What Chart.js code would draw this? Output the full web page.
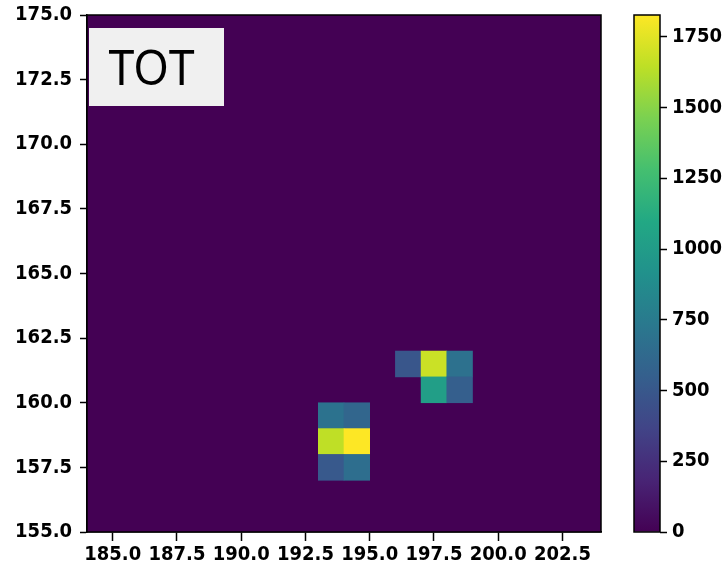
<!DOCTYPE html>
<html>
<head>
<meta charset="utf-8">
<script src="https://cdn.jsdelivr.net/npm/chart.js@4.4.1/dist/chart.umd.min.js"></script>
<style>
  html, body { margin: 0; padding: 0; background: #fff; }
  #wrap { position: relative; width: 726px; height: 570px; }
  #heat { position: absolute; left: 0; top: 0; }
  #cbar { position: absolute; left: 620px; top: 0; }
</style>
</head>
<body>
<div id="wrap">
  <canvas id="heat" width="620" height="570"></canvas>
  <canvas id="cbar" width="106" height="570"></canvas>
</div>
<script>
// grid extent, one cell per unit; any cell not listed below is 0
const xRange = [184, 204];
const yRange = [155, 175];
const xTicks = [185, 187.5, 190, 192.5, 195, 197.5, 200, 202.5];
const yTicks = [155, 157.5, 160, 162.5, 165, 167.5, 170, 172.5, 175];
const cbTicks = [0, 250, 500, 750, 1000, 1250, 1500, 1750];

// non-zero cells: lower-left corner and count
const cellX = [193, 194, 193, 194, 193, 194, 196, 197, 198, 197, 198];
const cellY = [159, 159, 158, 158, 157, 157, 161, 161, 161, 160, 160];
const cellValue = [690, 600, 1650, 1827, 510, 660, 490, 1680, 680, 1020, 550];
const vmax = 1827;
const panelLabel = 'TOT';

// viridis colormap, 11 stops
const VIRIDIS = ['#440154', '#482475', '#414487', '#355f8d', '#2a788e', '#21918c',
                 '#22a884', '#44bf70', '#7ad151', '#bddf26', '#fde725'];
function hex(h) { return [1, 3, 5].map(i => parseInt(h.substr(i, 2), 16)); }
function viridis(t) {
  t = Math.min(1, Math.max(0, t));
  const f = t * (VIRIDIS.length - 1);
  const i = Math.min(Math.floor(f), VIRIDIS.length - 2);
  const a = hex(VIRIDIS[i]), b = hex(VIRIDIS[i + 1]), k = f - i;
  const c = a.map((v, j) => Math.round(v + (b[j] - v) * k));
  return `rgb(${c[0]},${c[1]},${c[2]})`;
}

const FONT = { family: "'DejaVu Sans Condensed', 'DejaVu Sans', sans-serif", size: 20, weight: 'bold' };

// vertical axes: fixed width, no extra room for the end labels
function fitY(width) {
  return s => { s.width = width; s.paddingTop = 0; s.paddingBottom = 0; };
}

// zero background, black frame and the panel tag
const heatFrame = {
  id: 'heatFrame',
  beforeDatasetsDraw(chart) {
    const { ctx, chartArea: a } = chart;
    ctx.save();
    ctx.fillStyle = viridis(0);
    ctx.fillRect(a.left, a.top, a.width, a.height);
    ctx.restore();
  },
  afterDraw(chart) {
    const { ctx, chartArea: a } = chart;
    ctx.save();
    ctx.strokeStyle = '#000';
    ctx.lineWidth = 1.5;
    ctx.strokeRect(a.left, a.top, a.width, a.height);
    ctx.fillStyle = '#f0f0f0';
    ctx.fillRect(a.left + 2, a.top + 13, 135, 78);
    ctx.fillStyle = '#000';
    ctx.font = "50px 'Liberation Sans', Arial, sans-serif";
    ctx.textBaseline = 'alphabetic';
    ctx.textAlign = 'left';
    ctx.translate(a.left + 21, a.top + 70);
    ctx.scale(0.88, 1);
    ctx.fillText(panelLabel, 0, 0);
    ctx.restore();
  }
};

new Chart(document.getElementById('heat'), {
  type: 'bar',
  data: {
    datasets: [{
      data: cellX.map((x, i) => ({ x: x + 0.5, y: [cellY[i], cellY[i] + 1] })),
      backgroundColor: cellValue.map(v => viridis(v / vmax)),
      borderWidth: 0,
      borderSkipped: false,
      barPercentage: 1,
      categoryPercentage: 1
    }]
  },
  options: {
    responsive: false,
    animation: false,
    devicePixelRatio: 1,
    layout: { padding: { top: 15, right: 19, left: 0, bottom: 0 } },
    plugins: { legend: { display: false }, tooltip: { enabled: false } },
    scales: {
      x: {
        type: 'linear',
        min: xRange[0], max: xRange[1],
        offset: false,
        afterBuildTicks: s => { s.ticks = xTicks.map(v => ({ value: v })); },
        afterFit: s => { s.height = 38; },
        grid: { offset: false, drawOnChartArea: false, tickLength: 9, tickWidth: 1.5, tickColor: '#000' },
        border: { color: '#000', width: 1.5 },
        ticks: { color: '#000', font: FONT, padding: 2, maxRotation: 0, autoSkip: false,
                 callback: v => v.toFixed(1) }
      },
      y: {
        type: 'linear',
        min: yRange[0], max: yRange[1],
        afterBuildTicks: s => { s.ticks = yTicks.map(v => ({ value: v })); },
        afterFit: fitY(87),
        grid: { drawOnChartArea: false, tickLength: 7, tickWidth: 1.5, tickColor: '#000' },
        border: { color: '#000', width: 1.5 },
        ticks: { color: '#000', font: FONT, padding: 8, autoSkip: false,
                 callback: v => v.toFixed(1) }
      }
    }
  },
  plugins: [heatFrame]
});

// colour bar: one bar spanning 0..vmax filled with the colormap
const cbFrame = {
  id: 'cbFrame',
  afterDraw(chart) {
    const { ctx, chartArea: a } = chart;
    ctx.save();
    ctx.strokeStyle = '#000';
    ctx.lineWidth = 1.5;
    ctx.strokeRect(a.left, a.top, a.width, a.height);
    ctx.restore();
  }
};

new Chart(document.getElementById('cbar'), {
  type: 'bar',
  data: {
    labels: [''],
    datasets: [{
      data: [[0, vmax]],
      borderWidth: 0,
      borderSkipped: false,
      barPercentage: 1,
      categoryPercentage: 1,
      backgroundColor: c => {
        const chart = c.chart;
        if (!chart.chartArea) return VIRIDIS[0];
        const y = chart.scales.y;
        const g = chart.ctx.createLinearGradient(0, y.getPixelForValue(0), 0, y.getPixelForValue(vmax));
        VIRIDIS.forEach((col, i) => g.addColorStop(i / (VIRIDIS.length - 1), col));
        return g;
      }
    }]
  },
  options: {
    responsive: false,
    animation: false,
    devicePixelRatio: 1,
    layout: { padding: { top: 15, right: 0, left: 14, bottom: 38 } },
    plugins: { legend: { display: false }, tooltip: { enabled: false } },
    scales: {
      x: { display: false },
      y: {
        position: 'right',
        min: 0, max: vmax,
        afterBuildTicks: s => { s.ticks = cbTicks.map(v => ({ value: v })); },
        afterFit: fitY(66),
        grid: { drawOnChartArea: false, tickLength: 7, tickWidth: 1.5, tickColor: '#000' },
        border: { display: false },
        ticks: { color: '#000', font: FONT, padding: 5, autoSkip: false,
                 callback: v => String(v) }
      }
    }
  },
  plugins: [cbFrame]
});
</script>
</body>
</html>
